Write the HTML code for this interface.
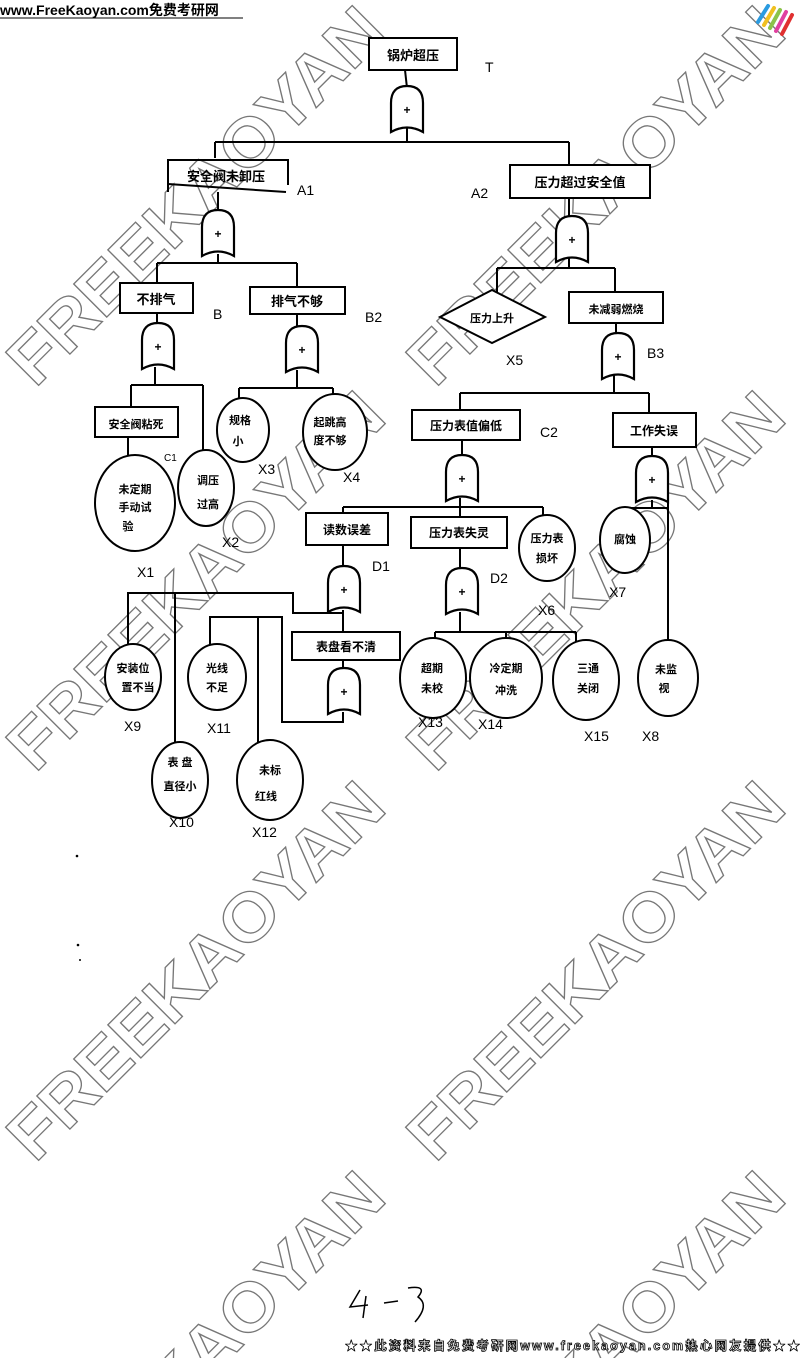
<!DOCTYPE html>
<html><head><meta charset="utf-8"><style>
html,body{margin:0;padding:0;background:#fff;width:800px;height:1358px;overflow:hidden;}
svg{display:block;overflow:hidden;}
.t{font-family:"Liberation Sans","Noto Sans CJK SC",sans-serif;font-weight:bold;fill:#000;}
.lab{font-family:"Liberation Sans",sans-serif;font-size:14px;fill:#000;}
.wm{font-family:"Liberation Sans",sans-serif;font-weight:bold;font-size:68px;fill:none;stroke:#777;stroke-width:1.3;}
</style></head><body>
<svg width="800" height="1358" viewBox="0 0 800 1358" xmlns="http://www.w3.org/2000/svg">
<defs>
<g id="gate">
<path d="M0,46 L0,17 Q0,0 16,0 Q32,0 32,17 L32,46 Q16,37 0,46 Z" fill="#fff" stroke="#000" stroke-width="2.2"/>
<text x="16" y="28" text-anchor="middle" font-size="12" font-family="Liberation Sans" font-weight="bold">+</text>
</g>
</defs>
<!-- watermarks -->
<g>
<text class="wm" x="195" y="219" text-anchor="middle" textLength="500" lengthAdjust="spacingAndGlyphs" transform="rotate(-45 195 195)">FREEKAOYAN</text>
<text class="wm" x="595" y="219" text-anchor="middle" textLength="500" lengthAdjust="spacingAndGlyphs" transform="rotate(-45 595 195)">FREEKAOYAN</text>
<text class="wm" x="195" y="604" text-anchor="middle" textLength="500" lengthAdjust="spacingAndGlyphs" transform="rotate(-45 195 580)">FREEKAOYAN</text>
<text class="wm" x="595" y="604" text-anchor="middle" textLength="500" lengthAdjust="spacingAndGlyphs" transform="rotate(-45 595 580)">FREEKAOYAN</text>
<text class="wm" x="195" y="994" text-anchor="middle" textLength="500" lengthAdjust="spacingAndGlyphs" transform="rotate(-45 195 970)">FREEKAOYAN</text>
<text class="wm" x="595" y="994" text-anchor="middle" textLength="500" lengthAdjust="spacingAndGlyphs" transform="rotate(-45 595 970)">FREEKAOYAN</text>
<text class="wm" x="195" y="1384" text-anchor="middle" textLength="500" lengthAdjust="spacingAndGlyphs" transform="rotate(-45 195 1360)">FREEKAOYAN</text>
<text class="wm" x="595" y="1384" text-anchor="middle" textLength="500" lengthAdjust="spacingAndGlyphs" transform="rotate(-45 595 1360)">FREEKAOYAN</text>
</g>
<!-- header -->
<text x="0" y="15" class="t" font-size="14">www.FreeKaoyan.com免费考研网</text>
<line x1="0" y1="18" x2="243" y2="18" stroke="#000" stroke-width="1"/>
<g stroke-width="4" stroke-linecap="round">
<line x1="758" y1="22" x2="768" y2="6" stroke="#2a9be0"/>
<line x1="764" y1="25" x2="774" y2="8" stroke="#f0c020"/>
<line x1="770" y1="28" x2="780" y2="10" stroke="#8bc34a"/>
<line x1="776" y1="31" x2="786" y2="12" stroke="#e040a0"/>
<line x1="782" y1="34" x2="792" y2="15" stroke="#e03030"/>
</g>
<g stroke="#000" stroke-width="2" fill="none">
<rect x="369" y="38" width="88" height="32" fill="#fff"/>
<line x1="405" y1="70" x2="407" y2="88"/>
<line x1="407" y1="128" x2="407" y2="142"/>
<line x1="215" y1="142" x2="569" y2="142"/>
<line x1="215" y1="142" x2="215" y2="158"/>
<line x1="569" y1="142" x2="569" y2="165"/>
<path d="M168,192 L168,160 L288,160 L288,185"/>
<line x1="168" y1="184" x2="286" y2="192"/>
<line x1="218" y1="192" x2="218" y2="212"/>
<line x1="218" y1="254" x2="218" y2="263"/>
<line x1="157" y1="263" x2="297" y2="263"/>
<line x1="157" y1="263" x2="157" y2="283"/>
<line x1="297" y1="263" x2="297" y2="287"/>
<rect x="510" y="165" width="140" height="33" fill="#fff"/>
<line x1="569" y1="198" x2="569" y2="218"/>
<line x1="569" y1="258" x2="569" y2="268"/>
<line x1="497" y1="268" x2="615" y2="268"/>
<line x1="497" y1="268" x2="497" y2="292"/>
<line x1="615" y1="268" x2="615" y2="292"/>
<rect x="120" y="283" width="73" height="30" fill="#fff"/>
<line x1="157" y1="313" x2="157" y2="325"/>
<line x1="155" y1="367" x2="155" y2="385"/>
<line x1="131" y1="385" x2="203" y2="385"/>
<line x1="131" y1="385" x2="131" y2="407"/>
<line x1="203" y1="385" x2="203" y2="455"/>
<rect x="95" y="407" width="83" height="30" fill="#fff"/>
<line x1="128" y1="437" x2="128" y2="455"/>
<rect x="250" y="287" width="95" height="27" fill="#fff"/>
<line x1="297" y1="314" x2="297" y2="328"/>
<line x1="297" y1="370" x2="297" y2="388"/>
<line x1="239" y1="388" x2="333" y2="388"/>
<line x1="239" y1="388" x2="239" y2="400"/>
<line x1="333" y1="388" x2="333" y2="400"/>
<polygon points="440,317 492,290 545,317 492,343" fill="#fff"/>
<rect x="569" y="292" width="94" height="31" fill="#fff"/>
<line x1="616" y1="323" x2="616" y2="335"/>
<line x1="614" y1="375" x2="614" y2="393"/>
<line x1="460" y1="393" x2="649" y2="393"/>
<line x1="460" y1="393" x2="460" y2="410"/>
<line x1="649" y1="393" x2="649" y2="413"/>
<rect x="412" y="410" width="108" height="30" fill="#fff"/>
<line x1="462" y1="440" x2="462" y2="457"/>
<line x1="460" y1="498" x2="460" y2="507"/>
<line x1="343" y1="507" x2="543" y2="507"/>
<line x1="343" y1="507" x2="343" y2="513"/>
<line x1="460" y1="507" x2="460" y2="517"/>
<line x1="543" y1="507" x2="543" y2="516"/>
<rect x="613" y="413" width="83" height="34" fill="#fff"/>
<line x1="652" y1="447" x2="652" y2="458"/>
<line x1="652" y1="500" x2="652" y2="508"/>
<line x1="625" y1="508" x2="668" y2="508"/>
<line x1="625" y1="508" x2="625" y2="514"/>
<line x1="668" y1="500" x2="668" y2="640"/>
<rect x="306" y="513" width="82" height="32" fill="#fff"/>
<line x1="343" y1="545" x2="343" y2="568"/>
<line x1="343" y1="610" x2="343" y2="632"/>
<path d="M343,613 L293,613 L293,593 L128,593 L128,645"/>
<line x1="175" y1="593" x2="175" y2="742"/>
<rect x="292" y="632" width="108" height="28" fill="#fff"/>
<line x1="343" y1="660" x2="343" y2="670"/>
<path d="M343,712 L343,722 L282,722 L282,617 L210,617 L210,645"/>
<line x1="258" y1="617" x2="258" y2="742"/>
<rect x="411" y="517" width="96" height="31" fill="#fff"/>
<line x1="460" y1="548" x2="460" y2="570"/>
<line x1="460" y1="612" x2="460" y2="632"/>
<line x1="435" y1="632" x2="576" y2="632"/>
<line x1="435" y1="632" x2="435" y2="640"/>
<line x1="506" y1="632" x2="506" y2="640"/>
<line x1="576" y1="632" x2="576" y2="642"/>
<ellipse cx="135" cy="503" rx="40" ry="48" fill="#fff"/>
<ellipse cx="206" cy="488" rx="28" ry="38" fill="#fff"/>
<ellipse cx="243" cy="430" rx="26" ry="32" fill="#fff"/>
<ellipse cx="335" cy="432" rx="32" ry="38" fill="#fff"/>
<ellipse cx="547" cy="548" rx="28" ry="33" fill="#fff"/>
<ellipse cx="625" cy="540" rx="25" ry="33" fill="#fff"/>
<ellipse cx="668" cy="678" rx="30" ry="38" fill="#fff"/>
<ellipse cx="133" cy="677" rx="28" ry="33" fill="#fff"/>
<ellipse cx="217" cy="677" rx="29" ry="33" fill="#fff"/>
<ellipse cx="180" cy="780" rx="28" ry="38" fill="#fff"/>
<ellipse cx="270" cy="780" rx="33" ry="40" fill="#fff"/>
<ellipse cx="433" cy="678" rx="33" ry="40" fill="#fff"/>
<ellipse cx="506" cy="678" rx="36" ry="40" fill="#fff"/>
<ellipse cx="586" cy="680" rx="33" ry="40" fill="#fff"/>
</g>
<use href="#gate" x="391" y="86"/>
<use href="#gate" x="202" y="210"/>
<use href="#gate" x="556" y="216"/>
<use href="#gate" x="142" y="323"/>
<use href="#gate" x="286" y="326"/>
<use href="#gate" x="602" y="333"/>
<use href="#gate" x="446" y="455"/>
<use href="#gate" x="636" y="456"/>
<use href="#gate" x="328" y="566"/>
<use href="#gate" x="446" y="568"/>
<use href="#gate" x="328" y="668"/>
<g class="t" font-size="13" text-anchor="middle">
<text x="413" y="60">锅炉超压</text>
<text x="226" y="181">安全阀未卸压</text>
<text x="580" y="187">压力超过安全值</text>
<text x="156" y="304">不排气</text>
<text x="297" y="306">排气不够</text>
<text x="492" y="322" font-size="11">压力上升</text>
<text x="616" y="313" font-size="11">未减弱燃烧</text>
<text x="136" y="428" font-size="11">安全阀粘死</text>
<text x="466" y="430" font-size="12">压力表值偏低</text>
<text x="654" y="435" font-size="12">工作失误</text>
<text x="347" y="534" font-size="12">读数误差</text>
<text x="459" y="537" font-size="12">压力表失灵</text>
<text x="346" y="651" font-size="12">表盘看不清</text>
</g>
<g class="t" font-size="11" text-anchor="middle">
<text x="135" y="493">未定期</text><text x="135" y="511">手动试</text><text x="128" y="530">验</text>
<text x="208" y="484">调压</text><text x="208" y="508">过高</text>
<text x="240" y="424">规格</text><text x="238" y="445">小</text>
<text x="330" y="426">起跳高</text><text x="330" y="444">度不够</text>
<text x="547" y="542">压力表</text><text x="547" y="562">损坏</text>
<text x="625" y="543">腐蚀</text>
<text x="666" y="673">未监</text><text x="664" y="692">视</text>
<text x="133" y="672">安装位</text><text x="138" y="691">置不当</text>
<text x="217" y="672">光线</text><text x="217" y="691">不足</text>
<text x="180" y="766">表 盘</text><text x="180" y="790">直径小</text>
<text x="270" y="774">未标</text><text x="266" y="800">红线</text>
<text x="432" y="672">超期</text><text x="432" y="692">未校</text>
<text x="506" y="672">冷定期</text><text x="506" y="694">冲洗</text>
<text x="588" y="672">三通</text><text x="588" y="692">关闭</text>
</g>
<g class="lab">
<text x="485" y="72">T</text>
<text x="297" y="195">A1</text>
<text x="471" y="198">A2</text>
<text x="213" y="319">B</text>
<text x="365" y="322">B2</text>
<text x="506" y="365">X5</text>
<text x="647" y="358">B3</text>
<text x="540" y="437">C2</text>
<text x="164" y="461" font-size="10">C1</text>
<text x="258" y="474">X3</text>
<text x="343" y="482">X4</text>
<text x="222" y="547">X2</text>
<text x="137" y="577">X1</text>
<text x="372" y="571">D1</text>
<text x="490" y="583">D2</text>
<text x="538" y="615">X6</text>
<text x="609" y="597">X7</text>
<text x="124" y="731">X9</text>
<text x="207" y="733">X11</text>
<text x="418" y="727">X13</text>
<text x="478" y="729">X14</text>
<text x="584" y="741">X15</text>
<text x="642" y="741">X8</text>
<text x="169" y="827">X10</text>
<text x="252" y="837">X12</text>
</g>
<circle cx="77" cy="856" r="1.3" fill="#000"/>
<circle cx="78" cy="945" r="1.3" fill="#000"/>
<circle cx="80" cy="960" r="1" fill="#000"/>
<g stroke="#000" stroke-width="1.5" fill="none">
<path d="M360,1290 L350,1307 L368,1305"/>
<path d="M366,1296 L363,1318"/>
<path d="M384,1303 L398,1301"/>
<path d="M408,1288 Q428,1285 418,1297 Q430,1305 415,1322"/>
</g>
<text x="345" y="1350" font-family="Liberation Sans,Noto Sans CJK SC,sans-serif" font-weight="bold" font-size="12.5" fill="#fff" stroke="#000" stroke-width="0.8" textLength="455">★★此资料来自免费考研网www.freekaoyan.com热心网友提供★★</text>
</svg>
</body></html>
